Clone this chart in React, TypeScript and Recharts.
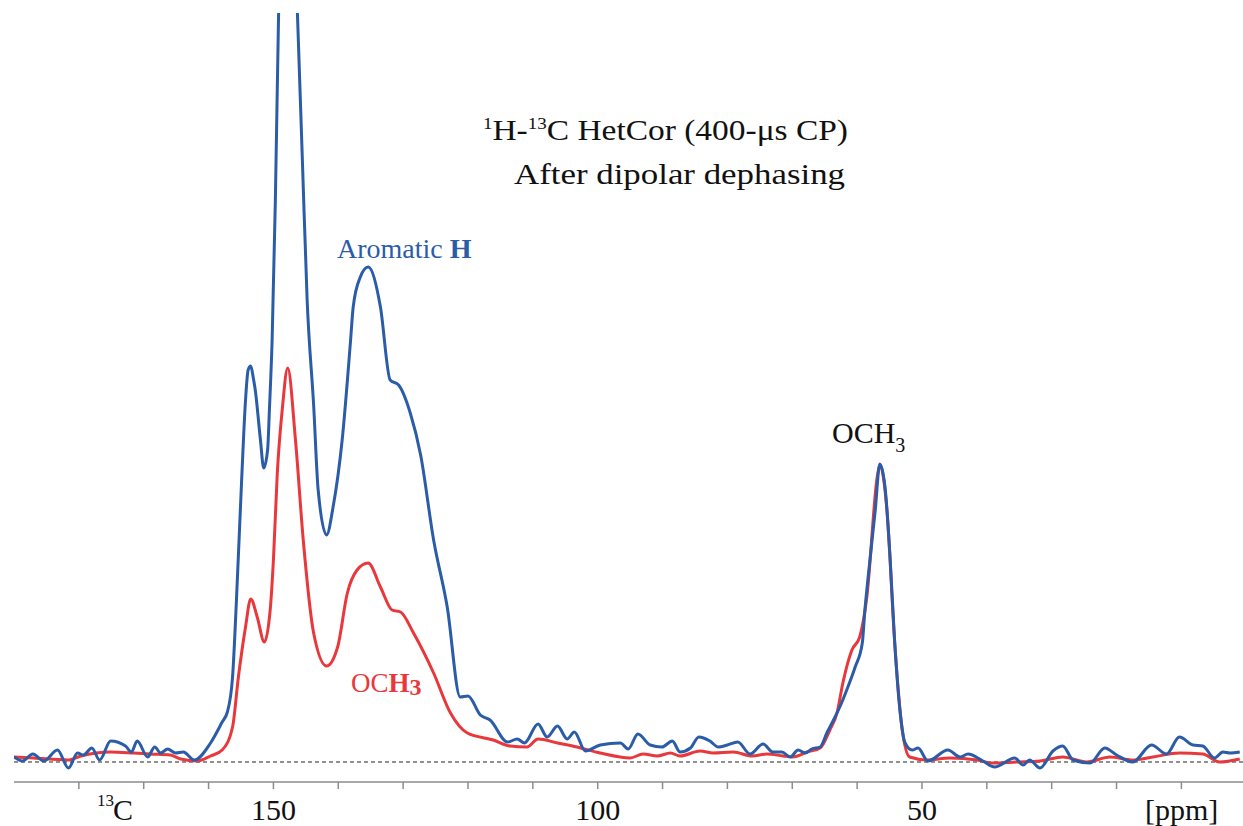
import React from "react";
import { LineChart, Line, XAxis, YAxis, ReferenceLine } from "recharts";

// blue: 1H-13C HetCor slice, red: after dipolar dephasing (intensity in arbitrary units)
const bluePpm = [
  190.0, 188.7, 187.1, 185.4, 183.3, 181.6, 180.2, 179.3, 178.0, 176.8, 175.1, 172.8, 171.9, 171.0, 169.4,
  168.3, 167.4, 166.3, 165.1, 163.9, 162.2, 159.7, 157.9, 157.1, 156.3, 155.7, 154.9, 154.3, 153.9,
  153.5, 153.1, 152.8, 152.0, 151.5, 150.9, 150.6, 150.2, 149.7, 149.2, 147.8, 146.3, 145.5, 144.8, 143.8,
  143.1, 141.8, 140.8, 139.4, 138.1, 137.7, 136.6, 135.4, 133.5, 132.0, 130.7, 128.9, 127.3, 125.3, 123.2,
  121.2, 120.0, 118.1, 116.6, 113.9, 112.4, 111.3, 109.2, 107.8, 106.2, 104.7, 103.6, 101.9, 99.6, 96.5,
  95.3, 93.8, 91.9, 90.1, 88.5, 87.3, 85.7, 84.4, 82.7, 81.4, 80.0, 78.4, 76.5, 74.5, 73.0,
  71.6, 70.3, 69.1, 68.0, 67.0, 65.7, 64.6, 63.4, 62.4, 61.6, 60.3, 59.2, 58.8, 58.3, 57.2,
  56.5, 55.7, 54.9, 54.2, 53.4, 52.6, 51.5, 50.6, 49.1, 46.0, 44.1, 42.9, 40.6, 38.8, 35.7,
  34.4, 33.4, 31.8, 29.8, 28.3, 26.7, 24.1, 21.8, 20.0, 17.5, 14.6, 12.3, 10.3, 8.2, 6.7,
  4.9, 3.6, 2.5, 1.0,
];
const blueVal = [
  5, 1, 8, 1, 12, -6, 9, 7, 14, 2, 21, 16, 10, 21, 5,
  15, 9, 13, 9, 10, 2, 19, 40, 50, 85, 162, 282, 362, 392,
  396, 384, 372, 322, 294, 312, 355, 422, 562, 749, 1000, 749, 595, 462, 357,
  272, 227, 255, 322, 422, 455, 485, 495, 455, 382, 377, 349, 307, 222, 155,
  65, 66, 47, 42, 20, 23, 19, 38, 25, 36, 23, 30, 11, 17, 19,
  13, 28, 17, 15, 21, 10, 14, 25, 21, 15, 17, 20, 8, 18, 10,
  10, 5, 12, 9, 13, 15, 30, 45, 59, 72, 95, 119, 152, 185, 252,
  298, 275, 202, 119, 52, 19, 12, 14, 1, 12, 5, 8, 1, -5, 4,
  -3, 2, -6, 11, 16, 2, -1, 14, 7, 0, 17, 8, 25, 17, 16,
  4, 10, 9, 10,
];

const redPpm = [
  190.0, 187.0, 181.7, 179.7, 175.1, 171.6, 169.0, 165.9, 164.3, 161.7, 159.7, 157.9, 156.3, 155.4, 154.3,
  153.5, 152.5, 151.4, 150.5, 150.0, 149.4, 148.6, 147.8, 146.6, 145.4, 143.8, 141.8, 140.1, 138.6, 137.1,
  135.4, 133.5, 131.7, 130.4, 128.4, 125.3, 122.7, 120.1, 116.1, 113.5, 110.9, 109.2, 106.2, 103.2, 99.6,
  95.0, 93.0, 90.8, 88.8, 87.3, 84.2, 82.2, 79.1, 76.2, 73.9, 71.4, 69.9, 67.7, 65.7, 64.2,
  63.1, 62.2, 60.8, 59.6, 58.5, 56.9, 56.5, 55.4, 54.2, 53.1, 51.9, 49.2, 45.7, 41.5, 39.1,
  35.4, 31.8, 28.3, 24.6, 21.0, 17.5, 14.4, 10.3, 6.7, 4.1, 1.0,
];
const redVal = [
  5, 4, 2, 6, 10, 9, 8, 7, 3, 1, 6, 12, 35, 85, 135,
  163, 145, 120, 152, 202, 289, 355, 394, 322, 222, 129, 96, 115, 169, 192,
  199, 175, 152, 150, 129, 89, 49, 29, 22, 16, 15, 23, 19, 15, 9,
  4, 8, 6, 9, 6, 11, 9, 10, 6, 8, 6, 5, 10, 14, 32,
  49, 79, 112, 125, 165, 285, 297, 252, 119, 35, 5, 2, 4, 2, -1,
  0, 1, 5, 0, 5, 2, 5, 9, 8, 0, 3,
];

const tickPpm = [180, 170, 160, 150, 140, 130, 120, 110, 100, 90, 80, 70, 60, 50, 40, 30, 20, 10];
const tickLabels = ["150", "100", "50"];

const blueData = bluePpm.map((ppm, i) => ({ ppm, v: blueVal[i] }));
const redData = redPpm.map((ppm, i) => ({ ppm, v: redVal[i] }));

const BLUE = "#2b5ca8";
const RED = "#e8383c";
const serif = "Liberation Serif, Times New Roman, Times, serif";

function PpmTick(props: any) {
  const { x, payload } = props;
  const label = String(payload.value);
  if (!tickLabels.includes(label)) return <g />;
  return (
    <text x={x} y={820} textAnchor="middle" fontFamily={serif} fontSize={30} fill="#111">
      {label}
    </text>
  );
}

export default function App() {
  return (
    <div style={{ position: "absolute", left: 0, top: 0, width: 1243, height: 826, background: "#fff" }}>
      <LineChart width={1243} height={826} margin={{ top: 13, right: 0, left: 14, bottom: 0 }}>
        <XAxis
          type="number"
          dataKey="ppm"
          domain={[0.5, 190]}
          reversed
          allowDataOverflow
          ticks={tickPpm}
          interval={0}
          tickSize={7}
          height={44}
          axisLine={{ stroke: "#8c8c8c", strokeWidth: 1.5 }}
          tickLine={{ stroke: "#8c8c8c", strokeWidth: 1.5 }}
          tick={<PpmTick />}
        />
        <YAxis type="number" hide domain={[-20, 749]} allowDataOverflow />
        <ReferenceLine y={0} stroke="#222" strokeWidth={1} strokeDasharray="4 3" />
        <Line data={redData} dataKey="v" type="monotone" stroke={RED} strokeWidth={3} dot={false} isAnimationActive={false} />
        <Line data={blueData} dataKey="v" type="monotone" stroke={BLUE} strokeWidth={3} dot={false} isAnimationActive={false} />
      </LineChart>
      <svg width={1243} height={826} style={{ position: "absolute", left: 0, top: 0, pointerEvents: "none" }}>
        <g fontFamily={serif} fill="#111">
          <text x={483} y={140} fontSize={30} textLength={365} lengthAdjust="spacingAndGlyphs">
            <tspan fontSize={17} dy={-11}>1</tspan>
            <tspan dy={11}>H-</tspan>
            <tspan fontSize={17} dy={-11}>13</tspan>
            <tspan dy={11}>C HetCor (400-μs CP)</tspan>
          </text>
          <text x={514} y={184} fontSize={30} textLength={331} lengthAdjust="spacingAndGlyphs">
            After dipolar dephasing
          </text>
          <text x={832} y={443} fontSize={30}>
            OCH
            <tspan fontSize={20} dy={9}>3</tspan>
          </text>
          <text x={97} y={806} fontSize={17}>13</text>
          <text x={113} y={820} fontSize={30}>C</text>
          <text x={1145} y={820} fontSize={30}>[ppm]</text>
        </g>
        <text x={337} y={258} fontFamily={serif} fontSize={28} fill={BLUE}>
          Aromatic <tspan fontWeight="bold">H</tspan>
        </text>
        <text x={351} y={692} fontFamily={serif} fontSize={27} fill={RED}>
          OC<tspan fontWeight="bold">H</tspan>
          <tspan fontWeight="bold" fontSize={24} dy={3}>3</tspan>
        </text>
      </svg>
    </div>
  );
}
